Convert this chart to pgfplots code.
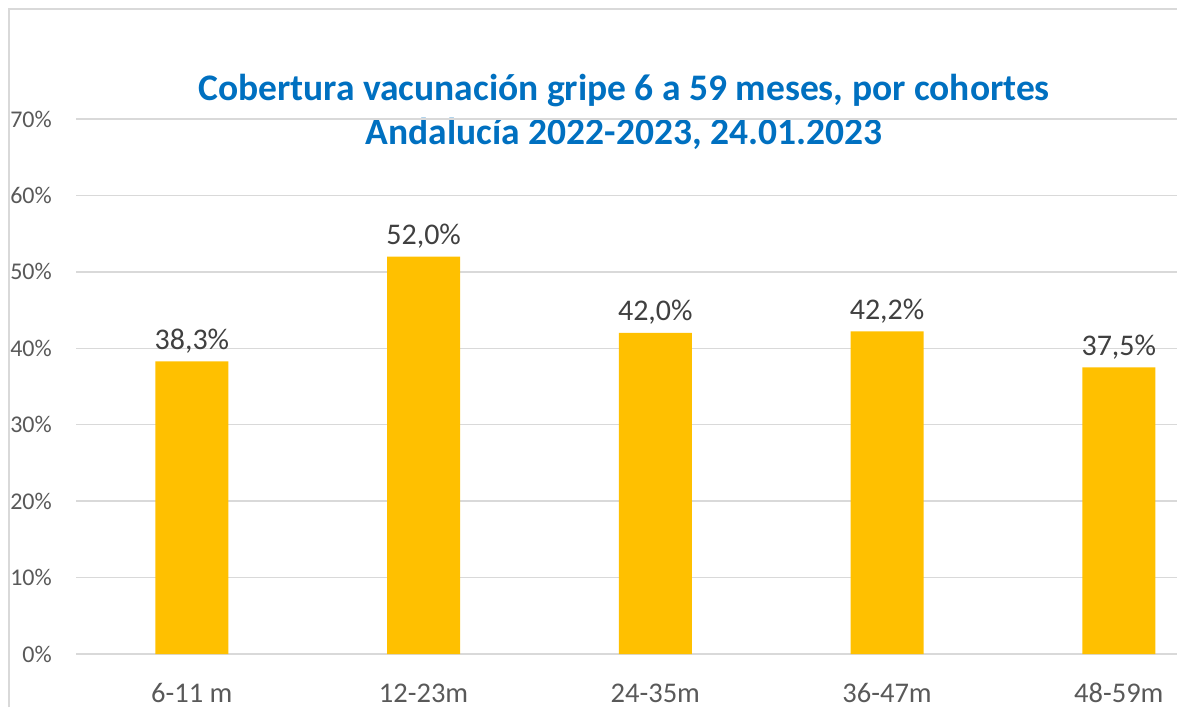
\documentclass[border=0pt]{standalone}
\usepackage{pgfplots}
\pgfplotsset{compat=1.18}
\usepackage{fontspec}
\setmainfont{Carlito}
\definecolor{barcol}{HTML}{FFC000}
\definecolor{titleblue}{HTML}{0070C0}
\definecolor{tickgray}{HTML}{595959}
\definecolor{labgray}{HTML}{404040}
\definecolor{gridgray}{HTML}{D9D9D9}
\definecolor{framegray}{HTML}{D9D9D9}
\begin{document}
\begin{tikzpicture}[x=1pt,y=1pt]
\path[use as bounding box] (0,0) rectangle (1177,707);
\draw[color=framegray, line width=1.5pt] (9,0) -- (9,698) -- (1177,698);
\node[font=\fontsize{37.5}{37.5}\selectfont\bfseries, text=titleblue, anchor=base] at (624,606) {Cobertura vacunación gripe 6 a 59 meses, por cohortes};
\node[font=\fontsize{37.5}{37.5}\selectfont\bfseries, text=titleblue, anchor=base] at (624,562) {Andalucía 2022-2023, 24.01.2023};
\begin{axis}[
  at={(76pt,53pt)}, anchor=south west,
  scale only axis, width=1101pt, height=535pt,
  xmin=-0.5, xmax=4.251, ymin=0, ymax=70,
  axis line style={draw=none},
  major tick length=0pt,
  ymajorgrids, grid style={gridgray, line width=1.3pt},
  ytick={0,10,...,70},
  yticklabel={\pgfmathprintnumber{\tick}\%},
  /pgf/number format/assume math mode=true,
  yticklabel style={font=\fontsize{24}{24}\selectfont, text=tickgray, anchor=east, inner sep=0pt, xshift=-24pt},
  xtick={0,1,2,3,4},
  xticklabels={6-11 m, 12-23m, 24-35m, 36-47m, 48-59m},
  xticklabel style={font=\fontsize{28.5}{28.5}\selectfont, text=tickgray, anchor=base, inner sep=0pt, yshift=-48pt},
  ybar, bar width=73pt,
  clip=false,
  nodes near coords={\pgfmathprintnumber[fixed, precision=1, fixed zerofill, use comma]{\pgfplotspointmeta}\%},
  nodes near coords style={font=\fontsize{30}{30}\selectfont, text=labgray, anchor=south, inner sep=0pt, yshift=8pt},
]
\addplot[fill=barcol, draw=none] coordinates {(0,38.3) (1,52.0) (2,42.0) (3,42.2) (4,37.5)};
\end{axis}
\end{tikzpicture}
\end{document}
